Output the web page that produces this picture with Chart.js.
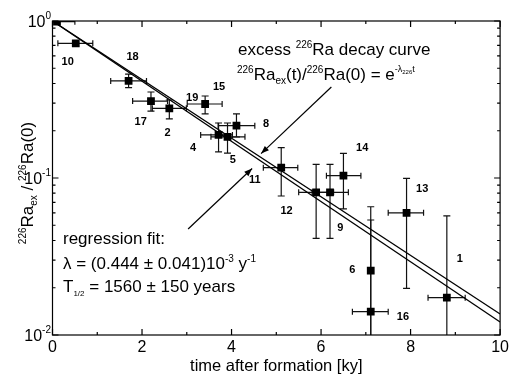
<!DOCTYPE html>
<html><head><meta charset="utf-8">
<script src="https://cdn.jsdelivr.net/npm/chart.js@4"></script>
<style>html,body{margin:0;padding:0;background:#fff}#wrap{width:512px;height:375px}</style>
</head><body><div id="wrap"><canvas id="c" width="512" height="375"></canvas></div>
<script>
// ---- data ----
const timeKy  = [0.10, 0.52, 1.70, 2.20, 2.61, 3.41, 3.71, 3.91, 4.11, 5.11, 5.89, 6.20, 6.50, 7.91, 7.11, 7.11, 8.81];
const ratio   = [0.99, 0.721, 0.415, 0.309, 0.278, 0.296, 0.188, 0.183, 0.2155, 0.1164, 0.0811, 0.0811, 0.1035, 0.060, 0.0257, 0.01407, 0.0173];
const timeLo  = [-0.30, 0.12, 1.30, 1.79, 2.23, 3.01, 3.31, 3.54, 3.70, 4.71, 5.50, 5.80, 6.12, 7.50, 7.11, 6.70, 8.39];
const timeHi  = [0.50, 0.90, 2.10, 2.57, 2.99, 3.79, 4.02, 4.30, 4.52, 5.48, 6.28, 6.61, 6.89, 8.29, 7.11, 7.50, 9.22];
const ratioLo = [0.99, 0.721, 0.376, 0.267, 0.238, 0.256, 0.1465, 0.144, 0.1825, 0.0768, 0.0413, 0.0413, 0.0635, 0.0198, 0.005, 0.005, 0.005];
const ratioHi = [0.99, 0.721, 0.459, 0.353, 0.314, 0.333, 0.224, 0.224, 0.256, 0.156, 0.122, 0.122, 0.1436, 0.0995, 0.0656, 0.054, 0.0573];

const fitTime  = [0, 10];
const fitUpper = [1, 0.0136];   // excess 226Ra decay curve
const fitLower = [1, 0.0121];   // regression fit

// sample number labels (anchor in data units)
const labelText  = ['10','18','17','2','19','15','4','5','8','11','12','9','14','13','6','16','1'];
const labelTime  = [0.34, 1.79, 1.97, 2.57, 3.12, 3.72, 3.14, 4.03, 4.77, 4.52, 5.23, 6.43, 6.92, 8.26, 6.70, 7.83, 9.10];
const labelRatio = [0.548, 0.590, 0.2274, 0.1935, 0.3235, 0.380, 0.155, 0.130, 0.221, 0.0971, 0.0616, 0.0481, 0.155, 0.0851, 0.0259, 0.01303, 0.0305];

const xTickValues = [0, 2, 4, 6, 8, 10];
const yTickValues = [1, 0.1, 0.01];
const yTickExps   = ['0', '-1', '-2'];

const xTitle = 'time after formation [ky]';

const FAM = '"Liberation Sans", Arial, Helvetica, sans-serif';

function setFont(ctx, s){ ctx.font = (s.w || 'normal') + ' ' + s.s + 'px ' + FAM; }
function richWidth(ctx, segs){ let w=0; for(const s of segs){ setFont(ctx,s); w += ctx.measureText(s.t).width; } return w; }
function drawRich(ctx, x, y, segs, align){
  const w = richWidth(ctx, segs);
  let cx = align==='right' ? x-w : (align==='center' ? x-w/2 : x);
  ctx.textBaseline = 'alphabetic'; ctx.textAlign = 'left';
  for(const s of segs){ setFont(ctx,s); ctx.fillText(s.t, cx, y + (s.dy||0)); cx += ctx.measureText(s.t).width; }
}
function arrow(ctx, x0, y0, x1, y1){
  ctx.beginPath(); ctx.moveTo(x0,y0); ctx.lineTo(x1,y1); ctx.stroke();
  const a = Math.atan2(y1-y0, x1-x0), L=8, H=3;
  ctx.beginPath();
  ctx.moveTo(x1,y1);
  ctx.lineTo(x1 - L*Math.cos(a) + H*Math.sin(a), y1 - L*Math.sin(a) - H*Math.cos(a));
  ctx.lineTo(x1 - L*Math.cos(a) - H*Math.sin(a), y1 - L*Math.sin(a) + H*Math.cos(a));
  ctx.closePath(); ctx.fill();
}

const annot = {
  id: 'annot',
  beforeDatasetsDraw(chart){
    const {ctx, chartArea:a, scales:{x, y}} = chart;
    ctx.save();
    ctx.beginPath(); ctx.rect(a.left, a.top, a.right-a.left, a.bottom-a.top); ctx.clip();
    ctx.strokeStyle = '#111'; ctx.lineWidth = 1.2;
    for(let i=0;i<timeKy.length;i++){
      const px = x.getPixelForValue(timeKy[i]), py = y.getPixelForValue(ratio[i]);
      ctx.beginPath();
      if(timeHi[i] > timeLo[i]){
        const x0 = x.getPixelForValue(timeLo[i]), x1 = x.getPixelForValue(timeHi[i]);
        ctx.moveTo(x0,py); ctx.lineTo(x1,py);
        ctx.moveTo(x0,py-3); ctx.lineTo(x0,py+3);
        ctx.moveTo(x1,py-3); ctx.lineTo(x1,py+3);
      }
      if(ratioHi[i] > ratioLo[i]){
        const y0 = y.getPixelForValue(ratioLo[i]), y1 = y.getPixelForValue(ratioHi[i]);
        ctx.moveTo(px,y0); ctx.lineTo(px,y1);
        ctx.moveTo(px-3.5,y0); ctx.lineTo(px+3.5,y0);
        ctx.moveTo(px-3.5,y1); ctx.lineTo(px+3.5,y1);
      }
      ctx.stroke();
    }
    ctx.restore();
  },
  afterDraw(chart){
    const {ctx, chartArea:a, scales:{x, y}} = chart;
    ctx.save();
    ctx.strokeStyle = '#000'; ctx.fillStyle = '#000'; ctx.lineWidth = 1.2;
    // frame
    ctx.strokeRect(a.left, a.top, a.right-a.left, a.bottom-a.top);
    // ticks (inward, all four sides)
    ctx.beginPath();
    for(let v=0; v<=10; v++){
      const px = x.getPixelForValue(v), L = (v%2===0) ? 6 : 3;
      ctx.moveTo(px, a.bottom); ctx.lineTo(px, a.bottom-L);
      ctx.moveTo(px, a.top); ctx.lineTo(px, a.top+L);
    }
    for(let k=-2;k<=0;k++){
      for(let m=1;m<=9;m++){
        const v = m*Math.pow(10,k); if(v>1.0001) break;
        const py = y.getPixelForValue(v), L = (m===1) ? 6 : 3;
        ctx.moveTo(a.left, py); ctx.lineTo(a.left+L, py);
        ctx.moveTo(a.right, py); ctx.lineTo(a.right-L, py);
      }
    }
    ctx.stroke();
    // y tick labels
    for(let i=0;i<yTickValues.length;i++){
      const py = y.getPixelForValue(yTickValues[i]);
      drawRich(ctx, a.left-1.5, py+6, [{t:'10',s:16},{t:yTickExps[i],s:10,dy:-8}], 'right');
    }
    // y axis title (rotated)
    ctx.save();
    ctx.translate(33, (a.top+a.bottom)/2 + 5);
    ctx.rotate(-Math.PI/2);
    drawRich(ctx, 0, 0, [{t:'226',s:10,dy:-7},{t:'Ra',s:17},{t:'ex',s:10,dy:4},{t:' / ',s:17},{t:'226',s:10,dy:-7},{t:'Ra(0)',s:17}], 'center');
    ctx.restore();
    // sample labels
    ctx.textAlign='center'; ctx.textBaseline='middle';
    ctx.font = 'bold 11px ' + FAM;
    for(let i=0;i<labelText.length;i++){
      ctx.fillText(labelText[i], x.getPixelForValue(labelTime[i]), y.getPixelForValue(labelRatio[i]));
    }
    // decay-curve text
    drawRich(ctx, 238, 55, [{t:'excess ',s:17},{t:'226',s:10,dy:-7},{t:'Ra decay curve',s:17}], 'left');
    drawRich(ctx, 237, 80, [{t:'226',s:10,dy:-7},{t:'Ra',s:17},{t:'ex',s:10,dy:4},{t:'(t)/',s:17},{t:'226',s:10,dy:-7},{t:'Ra(0) = e',s:17},{t:'-λ',s:9,dy:-8},{t:'226',s:6,dy:-6},{t:'t',s:9,dy:-8}], 'left');
    // regression text
    drawRich(ctx, 63, 244, [{t:'regression fit:',s:17}], 'left');
    drawRich(ctx, 63, 269, [{t:'λ = (0.444 ± 0.041)10',s:17},{t:'-3',s:10,dy:-7},{t:' y',s:17},{t:'-1',s:10,dy:-7}], 'left');
    drawRich(ctx, 63, 292, [{t:'T',s:17},{t:'1/2',s:8,dy:4},{t:' = 1560 ± 150 years',s:17}], 'left');
    // arrows
    ctx.lineWidth = 1.2;
    arrow(ctx, x.getPixelForValue(6.23), y.getPixelForValue(0.380), x.getPixelForValue(4.66), y.getPixelForValue(0.143));
    arrow(ctx, x.getPixelForValue(3.03), y.getPixelForValue(0.0473), x.getPixelForValue(4.46), y.getPixelForValue(0.115));
    ctx.restore();
  }
};

new Chart(document.getElementById('c'), {
  type: 'scatter',
  data: {
    datasets: [
      { label: 'samples', data: timeKy.map((t,i)=>({x:t, y:ratio[i]})),
        pointStyle: 'rect', pointRadius: 5.5, backgroundColor: '#000', borderColor: '#000', borderWidth: 0, showLine: false, order: 0 },
      { label: 'decay curve', data: fitTime.map((t,i)=>({x:t, y:fitUpper[i]})),
        showLine: true, borderColor: '#000', borderWidth: 1.3, pointRadius: 0, fill: false, order: 1 },
      { label: 'regression fit', data: fitTime.map((t,i)=>({x:t, y:fitLower[i]})),
        showLine: true, borderColor: '#000', borderWidth: 1.3, pointRadius: 0, fill: false, order: 1 }
    ]
  },
  options: {
    responsive: false, animation: false, devicePixelRatio: 1,
    layout: { padding: { top: 21, right: 9.5, left: 0, bottom: 0 } },
    plugins: { legend: { display: false }, tooltip: { enabled: false } },
    scales: {
      x: {
        type: 'linear', min: 0, max: 10,
        afterBuildTicks(s){ s.ticks = xTickValues.map(v=>({value:v})); },
        grid: { display: false, drawTicks: false }, border: { display: false },
        ticks: { padding: 3, color: '#000', font: { size: 16, family: FAM } },
        title: { display: true, text: xTitle, color: '#000', font: { size: 16.5, family: FAM, lineHeight: 1 }, padding: 0 },
        afterFit(s){ s.height = 40; }
      },
      y: {
        type: 'logarithmic', min: 0.01, max: 1,
        grid: { display: false, drawTicks: false }, border: { display: false },
        ticks: { display: false },
        afterFit(s){ s.width = 52.5; }
      }
    }
  },
  plugins: [annot]
});
</script>
</body></html>
